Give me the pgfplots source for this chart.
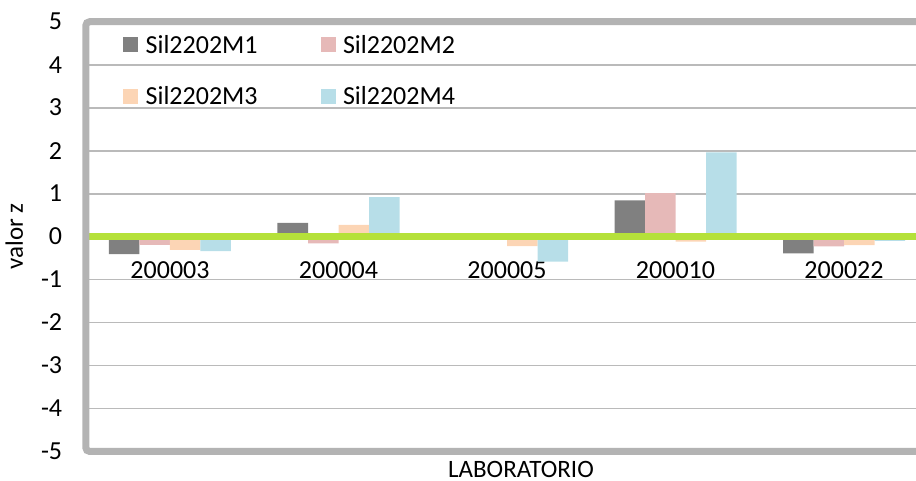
\documentclass[border=0pt]{standalone}
\usepackage{pgfplots}
\pgfplotsset{compat=1.18}
\usepackage{fontspec}
\setmainfont{Carlito}
\definecolor{cM1}{HTML}{808080}
\definecolor{cM2}{HTML}{E6B9B8}
\definecolor{cM3}{HTML}{FCD5B5}
\definecolor{cM4}{HTML}{B7DEE8}
\definecolor{cGreen}{HTML}{B5E13A}
\definecolor{cFrame}{HTML}{B3B3B3}
\definecolor{cGrid}{HTML}{BABABA}
\begin{document}
\begin{tikzpicture}
\begin{axis}[
  name=ax,
  at={(42.875pt,14.75pt)}, anchor=south west,
  scale only axis, width=421.25pt, height=214.9pt,
  xmin=-0.5, xmax=4.5, ymin=-5, ymax=5,
  xtick={0,1,2,3,4},
  xticklabels={200003,200004,200005,200010,200022},
  ytick={-5,-4,...,5},
  /pgf/number format/assume math mode=true,
  major tick length=0pt,
  ymajorgrids,
  grid style={line width=0.9pt, cGrid},
  axis line style={draw=none},
  tick label style={font=\fontsize{13}{15.6}\selectfont},
  xticklabel style={anchor=base, yshift=86.5pt},
  yticklabel style={anchor=east, inner sep=0pt, xshift=-11.6pt},
  xlabel={LABORATORIO}, ylabel={valor z},
  every axis x label/.style={at={(axis description cs:0.5166,-0.061)}, anchor=base, font=\fontsize{12.5}{15}\selectfont},
  every axis y label/.style={at={(axis description cs:-0.0745,0.5)}, anchor=base, rotate=90, font=\fontsize{12.5}{15}\selectfont},
  ybar, bar width=15.25pt,
  legend columns=2,
  legend style={at={(axis description cs:0.044,0.978)}, anchor=north west, draw=none, fill=none, inner sep=0pt,
    font=\fontsize{13}{15.6}\selectfont, row sep=11pt,
    /tikz/every even column/.append style={column sep=29.5pt}},
  legend image code/.code={\fill[#1] (0pt,-3.2pt) rectangle (7.5pt,4.3pt); \path (9.2pt,0pt);},
]
\addplot[fill=cM1, draw=none, bar shift=-22.875pt] coordinates {(0,-0.41) (1,0.32) (2,0) (3,0.84) (4,-0.39)};
\addplot[fill=cM2, draw=none, bar shift=-7.625pt] coordinates {(0,-0.19) (1,-0.16) (2,0) (3,1.01) (4,-0.23)};
\addplot[fill=cM3, draw=none, bar shift=7.625pt] coordinates {(0,-0.31) (1,0.27) (2,-0.22) (3,-0.12) (4,-0.20)};
\addplot[fill=cM4, draw=none, bar shift=22.875pt] coordinates {(0,-0.34) (1,0.92) (2,-0.58) (3,1.96) (4,-0.10)};
\legend{Sil2202M1,Sil2202M2,Sil2202M3,Sil2202M4}
\addplot[sharp plot, forget plot, cGreen, line width=3.35pt] coordinates {(-0.48,0) (4.5,0)};
\end{axis}
\draw[overlay, cFrame, line width=3.5pt, rounded corners=2pt]
  ([xshift=10pt]ax.south east) -- (ax.south west) -- (ax.north west) -- ([xshift=10pt]ax.north east);
\pgfresetboundingbox
\path[use as bounding box] (0,0) rectangle (458pt,240.5pt);
\end{tikzpicture}
\end{document}
